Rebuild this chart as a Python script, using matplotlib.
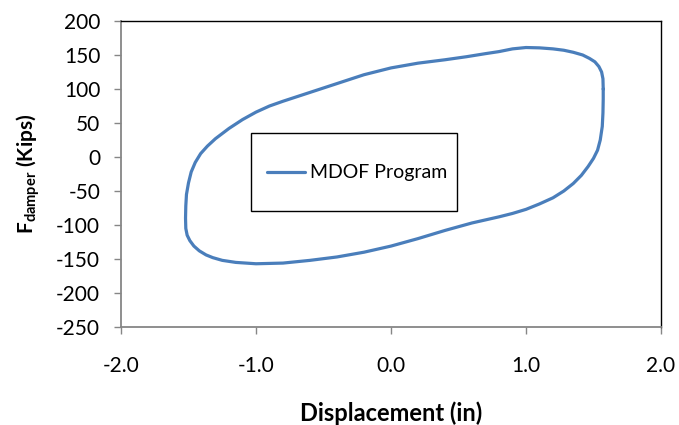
import matplotlib
matplotlib.use('Agg')
import matplotlib.pyplot as plt
from matplotlib.patches import Rectangle

plt.rcParams['font.family'] = ['Lato', 'DejaVu Sans']
plt.rcParams['mathtext.fontset'] = 'custom'
plt.rcParams['mathtext.rm'] = 'Lato'
plt.rcParams['mathtext.bf'] = 'Lato:bold'
plt.rcParams['axes.unicode_minus'] = False

# hysteresis loop (displacement in, force kips)
disp = [1.572, 1.57, 1.56, 1.54, 1.51, 1.47, 1.42, 1.35, 1.28, 1.2, 1.1, 1.0,
        0.9, 0.8, 0.7, 0.56, 0.4, 0.2, 0.0, -0.2, -0.4, -0.6, -0.8, -0.9,
        -1.0, -1.1, -1.2, -1.3, -1.36, -1.41, -1.45, -1.48, -1.50, -1.515,
        -1.52, -1.522, -1.52, -1.51, -1.49, -1.46, -1.42, -1.37, -1.32, -1.25,
        -1.15, -1.0, -0.8, -0.6, -0.4, -0.2, 0.0, 0.2, 0.4, 0.6, 0.8, 0.9,
        1.0, 1.1, 1.2, 1.28, 1.35, 1.41, 1.46, 1.50, 1.53, 1.55, 1.565, 1.57,
        1.572, 1.572]
force = [100, 115, 125, 133, 140, 145, 150, 154, 157, 159, 160.5, 161,
         159, 155, 152, 147.5, 143, 138, 131, 121, 108, 95, 82, 75,
         66, 55, 42, 27, 16, 5, -8, -22, -38, -55,
         -72, -90, -105, -115, -123, -131, -138, -144, -148, -152,
         -155, -157, -156, -152, -147, -140, -131, -120, -108, -97, -88, -83,
         -77, -69, -60, -50, -39, -27, -14, -2, 10, 25, 45, 65,
         85, 100]

xticks = [-2.0, -1.0, 0.0, 1.0, 2.0]
yticks = list(range(-250, 201, 50))

fig = plt.figure(figsize=(6.79, 4.25), dpi=100)
ax = fig.add_axes([121/679, 1 - 327/425, 540/679, 306/425])

ax.plot(disp, force, color='#4A7EBB', lw=2.3, label='MDOF Program',
        solid_joinstyle='round', solid_capstyle='round')

ax.set_xlim(-2, 2)
ax.set_ylim(-250, 200)
ax.set_xticks(xticks)
ax.set_xticklabels([f'{t:.1f}' for t in xticks])
ax.set_yticks(yticks)

for s in ['top', 'right']:
    ax.spines[s].set_color('black')
    ax.spines[s].set_linewidth(1.0)
for s in ['left', 'bottom']:
    ax.spines[s].set_color('#868686')
    ax.spines[s].set_linewidth(1.3)

ax.tick_params(axis='y', direction='out', length=5, width=1, color='#868686',
               labelsize=15, pad=10)
ax.tick_params(axis='x', direction='out', length=5, width=1, color='#868686',
               labelsize=15, pad=16)

ax.set_xlabel('Displacement (in)', fontsize=17, fontweight='bold', labelpad=18)
ax.set_ylabel(r'$\mathbf{F}_{\mathbf{damper}}$ (Kips)', fontsize=15,
              fontweight='bold', labelpad=10)

# legend box drawn large like the reference
fig.patches.append(Rectangle((251/679, 1 - 211/425), 206/679, 78/425,
                             transform=fig.transFigure, fill=False,
                             edgecolor='black', lw=1.0))
fig.legend(loc='center left', bbox_to_anchor=(267/679, 1 - 173/425),
           frameon=False, fontsize=14, handlelength=1.95, handletextpad=0.25,
           borderpad=0, borderaxespad=0)

fig.savefig('out.png', dpi=100)
